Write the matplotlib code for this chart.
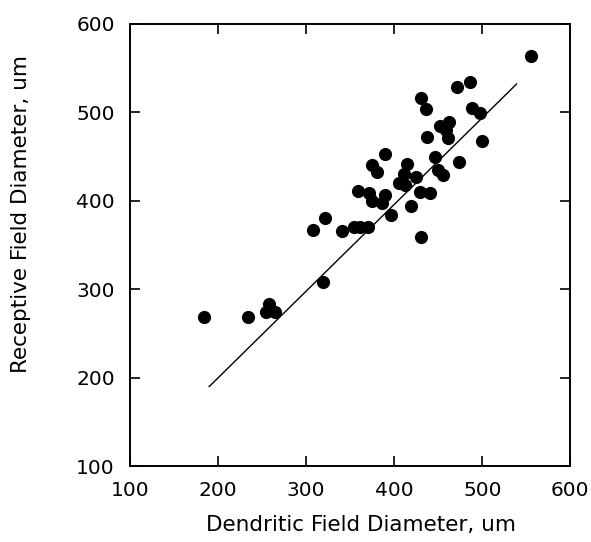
import matplotlib
matplotlib.use("Agg")
import matplotlib.pyplot as plt

# dendritic field diameter (x) vs receptive field diameter (y), um
dendritic = [184, 234, 254, 258, 265, 319,
             308, 321, 341, 354, 361, 370,
             359, 371, 375, 386, 390, 396,
             375, 381, 390, 415, 411, 405, 412, 425,
             419, 429, 441, 430, 446, 450, 455, 474,
             437, 430, 436, 452, 462, 459, 461,
             471, 486, 488, 498, 500, 555]
receptive = [269, 269, 274, 283, 274, 308,
             367, 380, 366, 370, 370, 370,
             411, 409, 400, 398, 406, 384,
             440, 432, 453, 441, 430, 420, 418, 427,
             394, 410, 409, 359, 449, 435, 429, 444,
             472, 516, 504, 485, 489, 480, 471,
             529, 534, 505, 499, 468, 564]

# fitted line endpoints
fit_x = [190, 539]
fit_y = [190, 532]

x_ticks = [100, 200, 300, 400, 500, 600]
y_ticks = [100, 200, 300, 400, 500, 600]

fig = plt.figure(figsize=(5.91, 5.42), dpi=100)
ax = fig.add_axes([0.220, 0.140, 0.745, 0.816])

ax.scatter(dendritic, receptive, s=90, color="black", zorder=3, linewidths=0)
ax.plot(fit_x, fit_y, color="black", linewidth=1.0)

ax.set_xlim(100, 600)
ax.set_ylim(100, 600)
ax.set_xticks(x_ticks)
ax.set_yticks(y_ticks)
ax.tick_params(direction="in", length=7, width=1.2, top=True, right=True,
               labelsize=14.5, pad=11, colors="black")
for sp in ax.spines.values():
    sp.set_linewidth(1.4)

ax.set_xlabel("Dendritic Field Diameter, um", fontsize=15.5)
ax.set_ylabel("Receptive Field Diameter, um", fontsize=15.5)
ax.xaxis.set_label_coords(0.525, -0.11)
ax.yaxis.set_label_coords(-0.225, 0.57)

fig.savefig("out.png", dpi=100)
